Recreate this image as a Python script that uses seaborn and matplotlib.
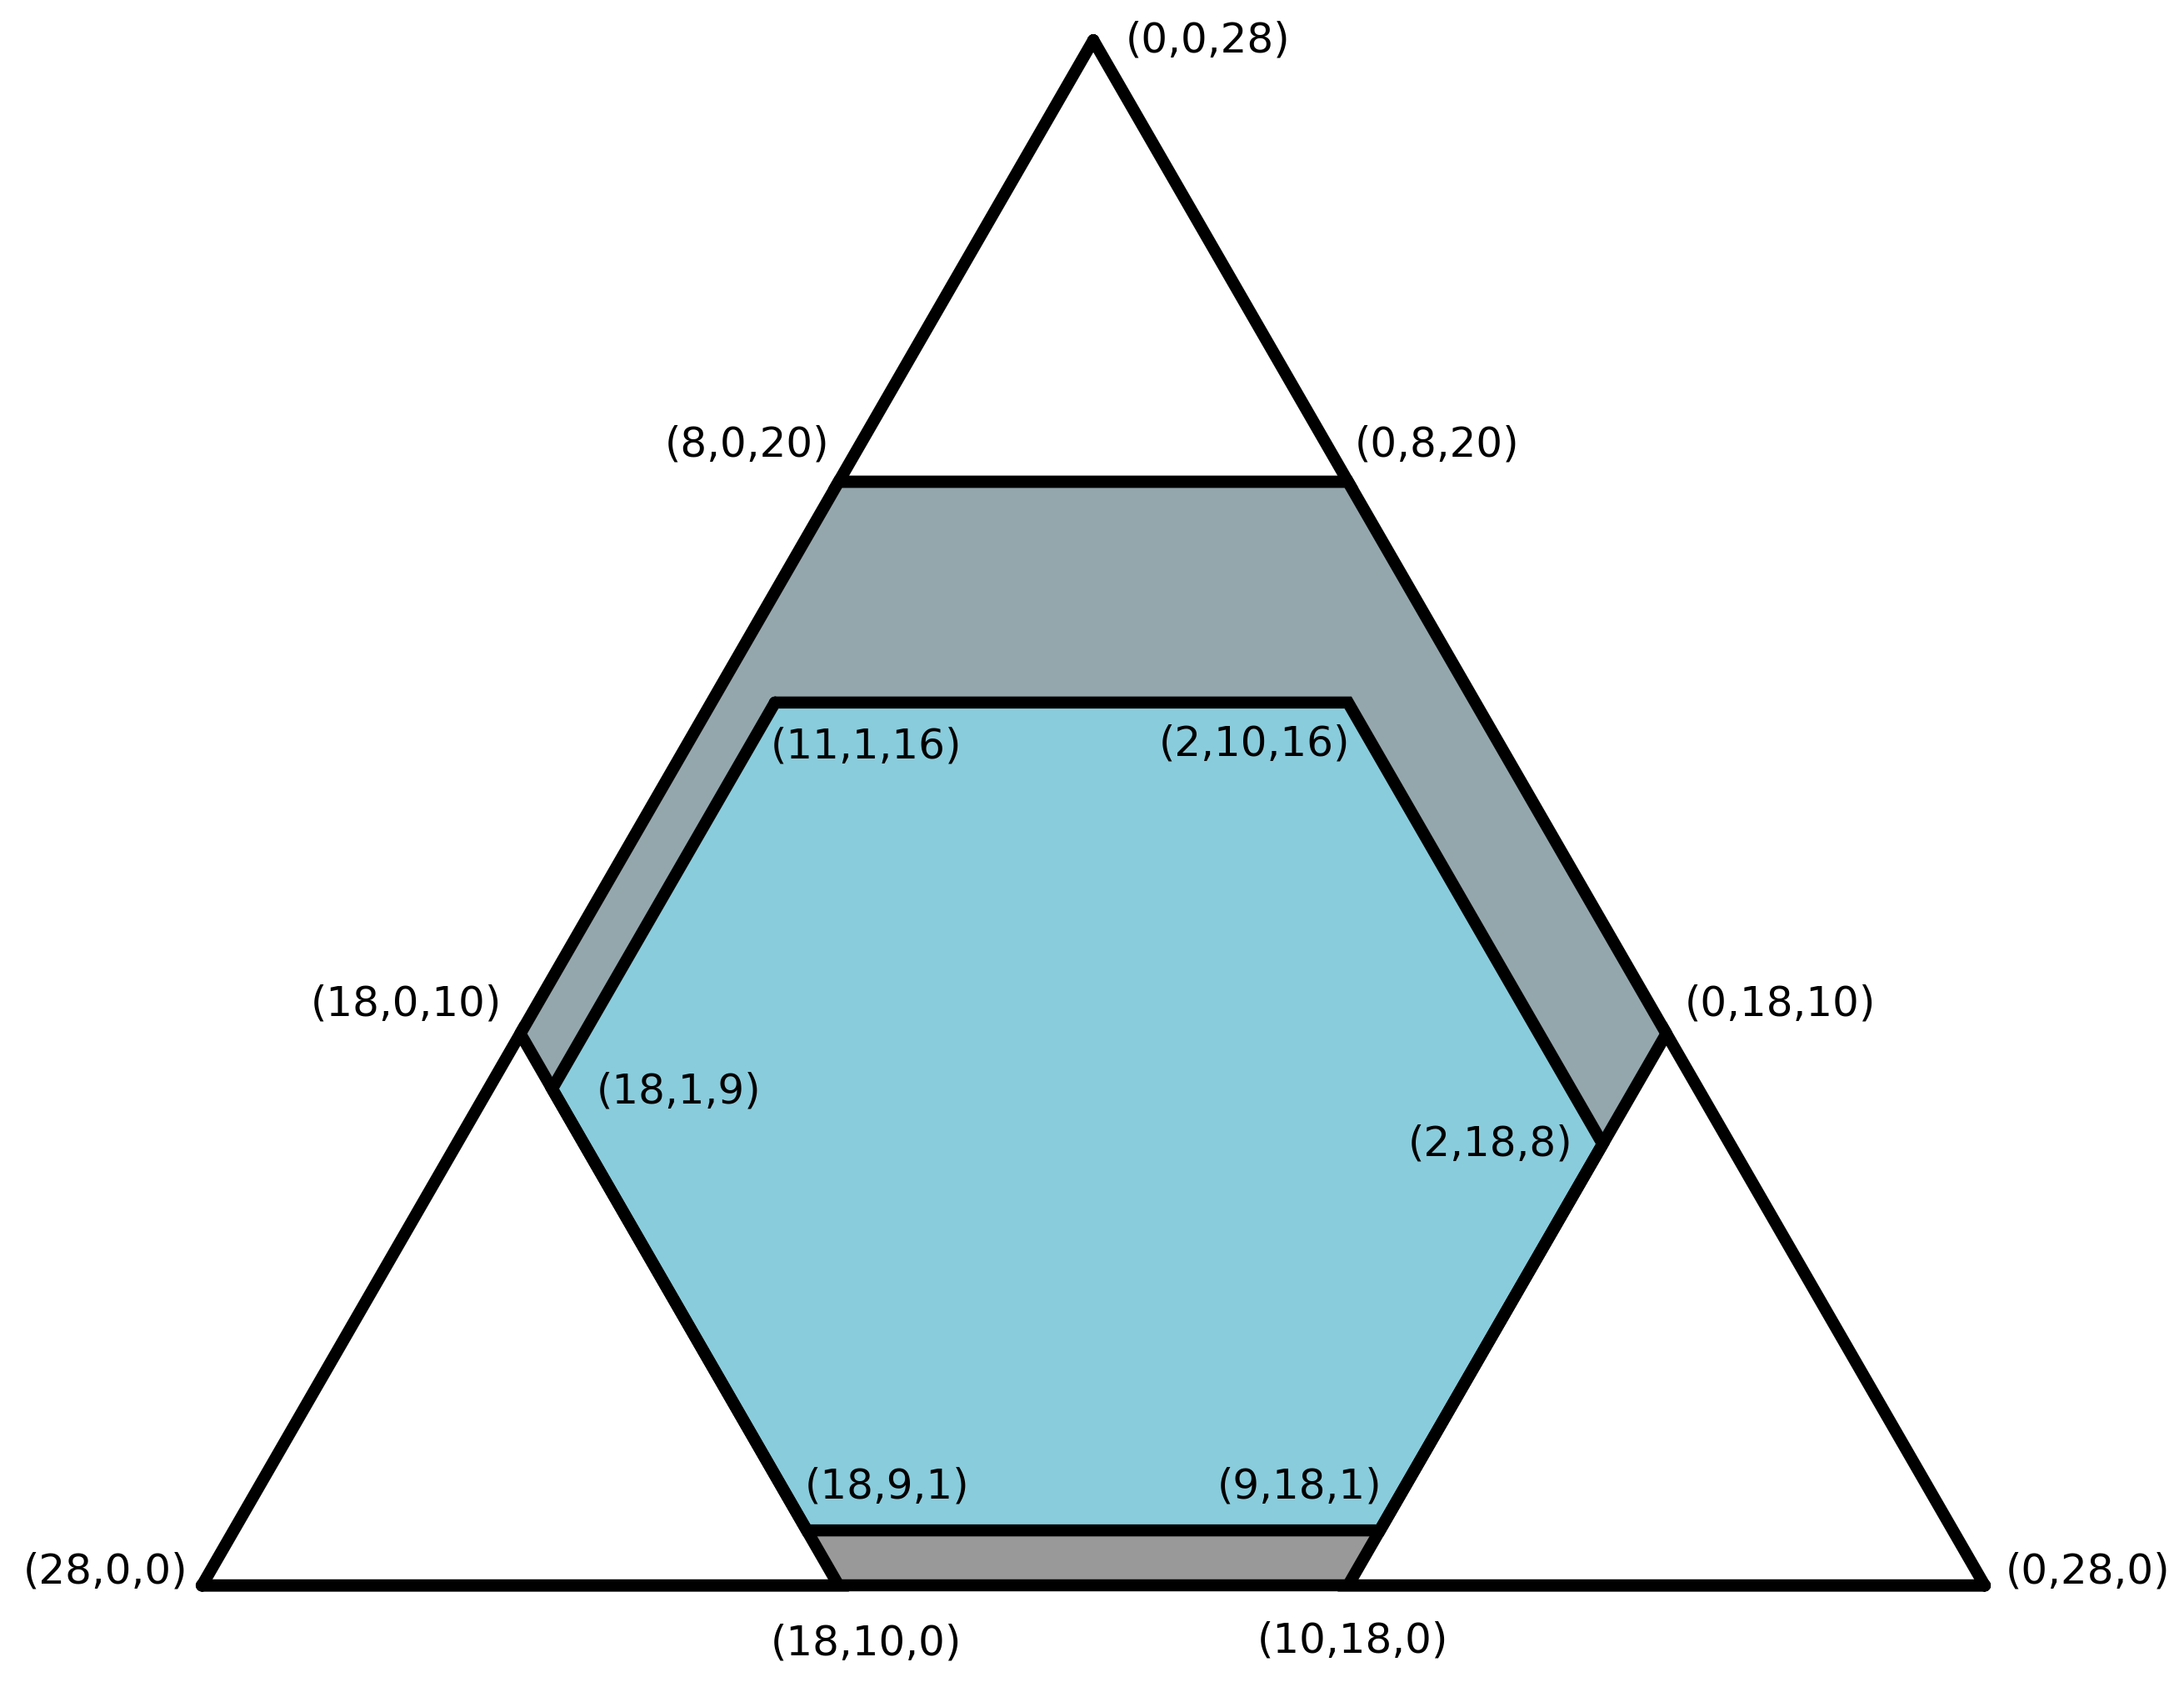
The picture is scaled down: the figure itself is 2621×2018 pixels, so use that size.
import numpy as np
import pandas as pd
import seaborn as sns
import matplotlib.pyplot as plt

# ternary points (a, b, c) with a + b + c = 28
total = 28
top_tri = [(0, 0, 28), (8, 0, 20), (0, 8, 20)]
left_tri = [(28, 0, 0), (18, 0, 10), (18, 10, 0)]
right_tri = [(0, 28, 0), (0, 18, 10), (10, 18, 0)]
band = [(8, 0, 20), (0, 8, 20), (0, 18, 10), (2, 18, 8), (18, 1, 9), (18, 0, 10)]
band_edge = [(18, 0, 10), (8, 0, 20), (0, 8, 20), (0, 18, 10)]
hexagon = [(11, 1, 16), (2, 10, 16), (2, 18, 8), (9, 18, 1), (18, 9, 1), (18, 1, 9)]
strip = [(18, 9, 1), (9, 18, 1), (10, 18, 0), (18, 10, 0)]
base = [(28, 0, 0), (0, 28, 0)]

# labels: point, offset in points, alignment
label_pts = [(0, 0, 28), (8, 0, 20), (0, 8, 20), (18, 0, 10), (0, 18, 10),
             (28, 0, 0), (0, 28, 0), (18, 10, 0), (10, 18, 0),
             (11, 1, 16), (2, 10, 16), (18, 1, 9), (2, 18, 8), (18, 9, 1), (9, 18, 1)]
label_off = [(14, 0), (-4, 16), (3, 16), (-8, 13), (8, 13),
             (-6, 6), (9, 6), (12, -25), (2, -24),
             (-2, -19), (1, -18), (19, -1), (-13, 0), (-1, 19), (1, 19)]
label_ha = ['left', 'right', 'left', 'right', 'left',
            'right', 'left', 'center', 'center',
            'left', 'right', 'left', 'right', 'left', 'right']


def to_xy(pts):
    p = np.array(pts, dtype=float)
    x = p[:, 1] + p[:, 2] / 2
    y = p[:, 2] * np.sqrt(3) / 2
    return x, y


def path_df(pts, close=True):
    if close:
        pts = pts + [pts[0]]
    x, y = to_xy(pts)
    return pd.DataFrame({'x': x, 'y': y})


sns.set_style("white")
plt.rcParams['font.family'] = ['DejaVu Sans']
fig = plt.figure(figsize=(13.105, 10.09), dpi=200)
ax = fig.add_axes([0, 0, 1, 1])

lw = 5.2
# filled regions
for pts, col in [(band, '#94a7ad'), (hexagon, '#89ccdc')]:
    x, y = to_xy(pts)
    ax.fill(x, y, color=col, lw=0)
x, y = to_xy(strip)
ax.fill(x, y, facecolor='#999999', edgecolor='#2b1010', lw=2.4, joinstyle='miter')

# outlines
for pts, close in [(band_edge, False), (hexagon, True), (top_tri, True),
                   (left_tri, True), (right_tri, True), (base, False)]:
    d = path_df(pts, close)
    sns.lineplot(data=d, x='x', y='y', sort=False, estimator=None, color='black',
                 lw=lw, ax=ax, solid_joinstyle='miter')

for p, off, ha in zip(label_pts, label_off, label_ha):
    x, y = to_xy([p])
    ax.annotate('(%d,%d,%d)' % p, (x[0], y[0]), xytext=off, textcoords='offset points',
                ha=ha, va='center', fontsize=18, color='black')

ax.set_xlim(-3.172, 31.13)
ax.set_ylim(-1.513, 24.88)
ax.set_aspect('auto')
ax.axis('off')
fig.savefig('out.png', dpi=200, facecolor='white')
